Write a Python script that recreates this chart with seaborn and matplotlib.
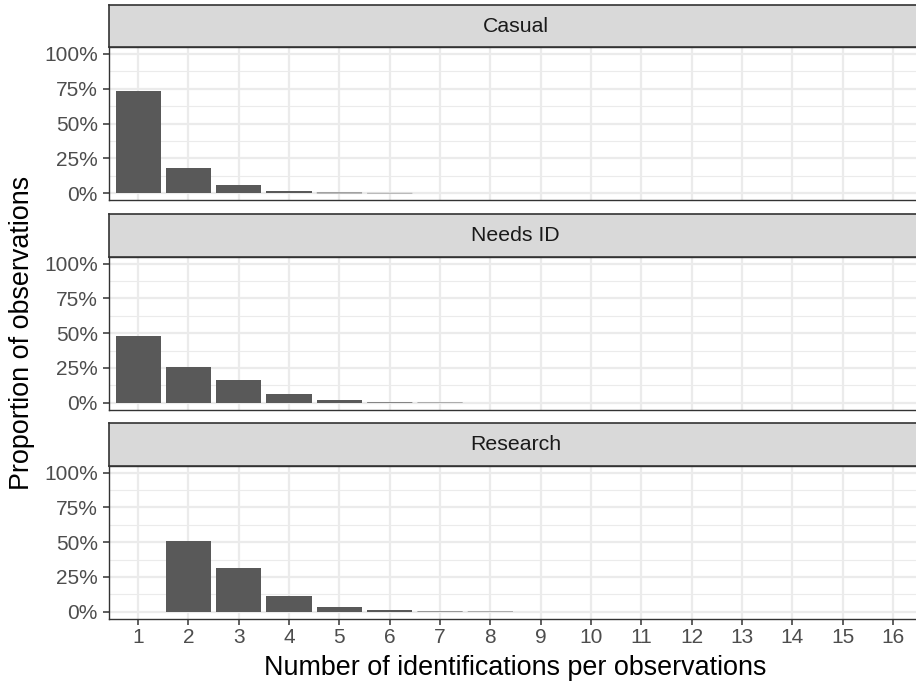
import matplotlib
matplotlib.use("Agg")
import matplotlib.pyplot as plt
import seaborn as sns
import pandas as pd
import numpy as np
from matplotlib.ticker import FixedLocator, FuncFormatter

# ---- data ----
groups = ["Casual", "Needs ID", "Research"]
casual_x = [1, 2, 3, 4, 5, 6]
casual_p = [0.734, 0.18, 0.058, 0.017, 0.006, 0.003]
needs_x = [1, 2, 3, 4, 5, 6, 7]
needs_p = [0.48, 0.26, 0.163, 0.063, 0.019, 0.005, 0.003]
research_x = [2, 3, 4, 5, 6, 7, 8]
research_p = [0.511, 0.312, 0.113, 0.032, 0.012, 0.004, 0.003]
x_levels = [str(i) for i in range(1, 17)]
y_ticks = [0, 0.25, 0.5, 0.75, 1.0]

data = {
    "Casual": (casual_x, casual_p),
    "Needs ID": (needs_x, needs_p),
    "Research": (research_x, research_p),
}

sns.set_theme(style="white")
plt.rcParams["font.family"] = ["Liberation Sans", "DejaVu Sans"]

W, H = 916, 686
fig = plt.figure(figsize=(W / 100, H / 100), dpi=100)

left_px, right_px = 109, 922
# (strip_top, plot_top, plot_bottom) in pixels
rows = [(5, 47, 200.3), (214, 256.7, 409.7), (423, 465.7, 618.7)]

bar_col = "#595959"
border = "#333333"
grid_col = "#EBEBEB"
txt_col = "#4D4D4D"
fs = 15.0

def px_rect(l, t, r, b):
    return [l / W, 1 - b / H, (r - l) / W, (b - t) / H]

for i, g in enumerate(groups):
    st, pt, pb = rows[i]
    ax = fig.add_axes(px_rect(left_px, pt, right_px, pb))
    xs, ps = data[g]
    df = pd.DataFrame({"n": [str(v) for v in xs], "p": ps})
    sns.barplot(data=df, x="n", y="p", order=x_levels, color=bar_col,
                saturation=1, width=0.9, ax=ax, linewidth=0, errorbar=None)
    for patch in ax.patches:
        if patch.get_height() < 0.01:
            patch.set_snap(False)
    ax.set_xlim(-0.58, 15.58)
    ax.set_ylim(-0.05, 1.05)
    ax.yaxis.set_major_locator(FixedLocator(y_ticks))
    ax.yaxis.set_minor_locator(FixedLocator([0.125, 0.375, 0.625, 0.875]))
    ax.yaxis.set_major_formatter(FuncFormatter(lambda v, _: f"{int(round(v*100))}%"))
    ax.set_axisbelow(True)
    ax.grid(True, which="major", axis="both", color=grid_col, lw=1.6)
    ax.grid(True, which="minor", axis="y", color=grid_col, lw=0.8)
    ax.set_xlabel("")
    ax.set_ylabel("")
    for s in ["left", "bottom", "top", "right"]:
        ax.spines[s].set_color(border)
        ax.spines[s].set_linewidth(1.0)
    ax.tick_params(axis="y", which="major", length=4, width=1.1, color=border,
                   labelsize=fs, labelcolor=txt_col, pad=4, left=True)
    ax.tick_params(axis="y", which="minor", length=0)
    if i < 2:
        ax.tick_params(axis="x", which="both", length=0, labelbottom=False, bottom=False)
    else:
        ax.tick_params(axis="x", which="major", length=4, width=1.1, color=border,
                       labelsize=fs, labelcolor=txt_col, pad=3, bottom=True)
    # strip
    sax = fig.add_axes(px_rect(left_px, st, right_px, pt))
    sax.set_facecolor("#D9D9D9")
    sax.set_xticks([])
    sax.set_yticks([])
    for s in sax.spines.values():
        s.set_color(border)
        s.set_linewidth(1.2)
    sax.text((515.5 - left_px) / (right_px - left_px), 0.5, g, transform=sax.transAxes,
             ha="center", va="center", fontsize=15.3, color="#1A1A1A")

fig.text(515.5 / W, 1 - 668 / H, "Number of identifications per observations",
         ha="center", va="center", fontsize=19.4, color="black")
fig.text(22 / W, 1 - 333 / H, "Proportion of observations", rotation=90,
         ha="center", va="center", fontsize=19.4, color="black")

fig.savefig("out.png", dpi=100, facecolor="white")
